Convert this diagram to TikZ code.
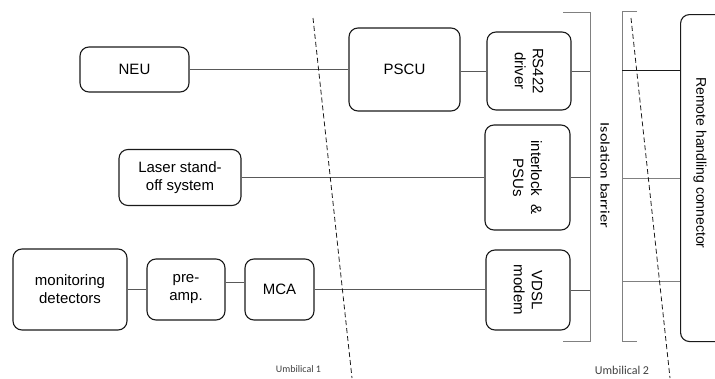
\documentclass[tikz,border=0pt]{standalone}
\usepackage{fontspec}
\setmainfont{Liberation Sans}
\newfontfamily\umbfont{Carlito}
\newfontfamily\isofont[FakeStretch=1.25]{Carlito}
\usetikzlibrary{positioning,calc}
\definecolor{BoxEdge}{HTML}{1A1A1A}
\definecolor{WireGray}{HTML}{595959}
\definecolor{BarrierGray}{HTML}{808080}
\definecolor{LabelGray}{HTML}{404040}

\tikzset{
  unit/.style={draw=BoxEdge, line width=1.1pt, rounded corners=9pt, inner sep=0pt,
    align=center, font=\fontsize{15}{18}\selectfont},
  unitrot/.style={unit, rotate=-90},
  wire/.style={draw=WireGray, line width=0.9pt},
  barrier/.style={draw=BarrierGray, line width=1pt},
  umbilical/.style={draw=BoxEdge, line width=0.8pt, dash pattern=on 5pt off 3pt},
  umblabel/.style={font=\umbfont\fontsize{10}{12}\selectfont, text=LabelGray, inner sep=0pt}
}

\begin{document}
\begin{tikzpicture}[x=1pt, y=-1pt]
    \useasboundingbox (0,0) rectangle (715,378);

    \node[unit, minimum width=109pt, minimum height=45pt] (neu) at (134.5,69.5) {NEU};
    \node[unit, minimum width=111pt, minimum height=83pt] (pscu) at (404.5,69.5) {PSCU};
    \node[unitrot, minimum width=78pt, minimum height=84pt] (rs) at (529,71) {RS422\\driver};

    \node[unit, minimum width=122pt, minimum height=56pt] (laser) at (180,177.5) {Laser stand-\\off system};
    \node[unitrot, minimum width=105pt, minimum height=85pt] (intlk) at (527.5,177.5) {interlock \ \&\\PSUs};

    \node[unit, minimum width=114pt, minimum height=81pt] (mon) at (70,289.5) {monitoring\\detectors};
    \node[unit, minimum width=78pt, minimum height=61pt] (preamp) at (186,289.5) {pre-\\amp.};
    \node[unit, minimum width=69pt, minimum height=61pt] (mca) at (279.5,289.5) {MCA};
    \node[unitrot, minimum width=80pt, minimum height=84pt] (vdsl) at (528,290) {VDSL\\modem};

    \node[unit, anchor=north west, minimum width=60pt, minimum height=327pt] (rhc) at (680,14) {};
    \node[rotate=-90, font=\fontsize{14}{16}\selectfont] (rhclabel) at (700,163) {Remote handling connector};

    \coordinate (iso top) at (590,12);
    \coordinate (iso bot) at (590,341);
    \draw[barrier] (563,12) -- (iso top) -- (iso bot) -- (563,341);
    \node[rotate=-90, font=\isofont\fontsize{13}{15}\selectfont, inner sep=0pt] (isolabel) at (605,175.5) {Isolation barrier};

    \coordinate (rh top) at (622,11);
    \coordinate (rh bot) at (622,341);
    \draw[barrier] (637,11) -- (rh top) -- (rh bot) -- (637,341);

    \draw[wire] (neu.east) -- (neu.east -| pscu.west);
    \draw[wire] (pscu.east |- rs.center) -- (rs.south);
    \draw[wire] (rs.north) -- (rs.north -| iso top);
    \draw[wire] (laser.east) -- (intlk.south);
    \draw[wire] (intlk.north) -- (intlk.north -| iso top);
    \draw[wire] (mon.east) -- (preamp.west);
    \draw[wire] ([yshift=7pt]preamp.east) -- ([yshift=7pt]mca.west);
    \draw[wire] (mca.east) -- (mca.east -| vdsl.south);
    \draw[wire] (vdsl.north) -- (vdsl.north -| iso top);

    \draw[draw=BoxEdge, line width=0.9pt] (622,70) -- (622,70 -| rhc.west);
    \draw[wire, draw=BarrierGray] (622,178) -- (622,178 -| rhc.west);
    \draw[wire, draw=BarrierGray] (622,281) -- (622,281 -| rhc.west);

    \coordinate (umb1 a) at (313,18);
    \coordinate (umb1 b) at (352,378);
    \draw[umbilical] (umb1 a) -- (umb1 b);
    \node[umblabel] (umb1) at (298.5,369) {Umbilical 1};

    \coordinate (umb2 a) at (631,18);
    \coordinate (umb2 b) at (670,378);
    \draw[umbilical] (umb2 a) -- (umb2 b);
    \node[umblabel, font=\umbfont\fontsize{12}{14}\selectfont] (umb2) at (622,370) {Umbilical 2};
  \end{tikzpicture}
\end{document}
